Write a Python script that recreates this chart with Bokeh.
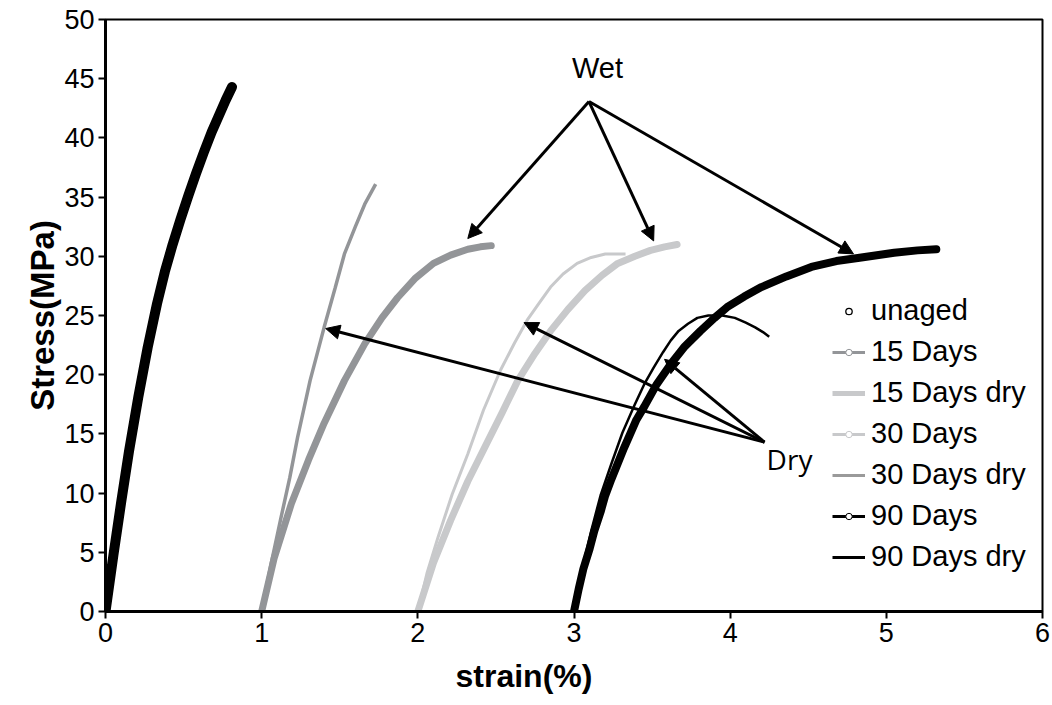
from bokeh.plotting import figure
from bokeh.models import Range1d, FixedTicker, Legend, LegendItem, Arrow, NormalHead, Label, Title
from bokeh.embed import file_html
from bokeh.resources import INLINE

# ---- data ----
unaged_x = [0.0, 0.05, 0.10, 0.15, 0.21, 0.27, 0.33, 0.38, 0.43, 0.48, 0.53, 0.58, 0.63, 0.68, 0.73, 0.77, 0.81]
unaged_y = [0.0, 4.7, 9.2, 13.5, 18.1, 22.3, 26.0, 28.7, 31.0, 33.1, 35.1, 37.0, 38.8, 40.5, 42.0, 43.2, 44.3]

d15_x = [1.0, 1.08, 1.19, 1.30, 1.40, 1.53, 1.66, 1.77, 1.87, 1.98, 2.10, 2.21, 2.32, 2.40, 2.47]
d15_y = [0.0, 4.5, 9.1, 12.8, 15.9, 19.5, 22.6, 24.8, 26.5, 28.1, 29.4, 30.1, 30.6, 30.8, 30.9]

d15dry_x = [1.0, 1.06, 1.12, 1.18, 1.23, 1.31, 1.40, 1.47, 1.53, 1.60, 1.66, 1.73]
d15dry_y = [0.0, 4.0, 7.7, 11.3, 14.7, 19.5, 24.0, 27.3, 30.2, 32.5, 34.4, 36.1]

d30_x = [2.0, 2.10, 2.21, 2.32, 2.43, 2.54, 2.64, 2.75, 2.85, 2.96, 3.07, 3.18, 3.28, 3.39, 3.49, 3.58, 3.66]
d30_y = [0.0, 4.1, 7.7, 11.0, 13.9, 16.8, 19.5, 21.8, 23.7, 25.5, 27.1, 28.4, 29.4, 30.0, 30.5, 30.8, 31.0]

d30dry_x = [2.0, 2.06, 2.13, 2.22, 2.32, 2.42, 2.53, 2.62, 2.70, 2.78, 2.85, 2.93, 3.02, 3.11, 3.20, 3.27, 3.33]
d30dry_y = [0.0, 3.3, 6.3, 9.9, 13.3, 17.0, 20.4, 22.7, 24.6, 26.1, 27.4, 28.5, 29.4, 29.9, 30.2, 30.2, 30.2]

d90_x = [3.0, 3.03, 3.06, 3.10, 3.13, 3.17, 3.20, 3.24, 3.28, 3.32, 3.36, 3.40, 3.45, 3.53, 3.62, 3.71, 3.81, 3.90, 3.98, 4.09, 4.20, 4.36, 4.52, 4.68, 4.84, 5.05, 5.20, 5.32]
d90_y = [0.0, 1.9, 3.6, 5.3, 6.8, 8.4, 9.8, 11.2, 12.5, 13.8, 15.0, 16.2, 17.3, 19.2, 20.9, 22.4, 23.7, 24.8, 25.7, 26.6, 27.4, 28.3, 29.1, 29.6, 29.9, 30.3, 30.5, 30.6]

d90dry_x = [3.0, 3.05, 3.11, 3.17, 3.24, 3.31, 3.39, 3.45, 3.51, 3.57, 3.62, 3.67, 3.73, 3.79, 3.86, 3.95, 4.03, 4.10, 4.16, 4.21, 4.25]
d90dry_y = [0.0, 3.5, 6.8, 9.8, 12.5, 15.1, 17.5, 19.2, 20.6, 21.9, 22.9, 23.7, 24.3, 24.8, 25.0, 25.0, 24.8, 24.4, 24.0, 23.6, 23.2]

legend_labels = ["unaged", "15 Days", "15 Days dry", "30 Days", "30 Days dry", "90 Days", "90 Days dry"]

x_ticks = [0, 1, 2, 3, 4, 5, 6]
y_ticks = [0, 5, 10, 15, 20, 25, 30, 35, 40, 45, 50]

# annotation arrows
wet_origin = (3.096, 43.07)
wet_tips_x = [2.32, 3.51, 4.79]
wet_tips_y = [31.5, 31.3, 30.2]
dry_origin = (4.22, 14.3)
dry_tips_x = [1.41, 2.68, 3.58]
dry_tips_y = [23.9, 24.4, 21.3]

GRAY = "#939598"
LIGHT = "#c8c9cb"
FONT = "Liberation Sans"

p = figure(width=1052, height=705, output_backend="svg", toolbar_location=None,
           x_range=Range1d(0, 6), y_range=Range1d(0, 50),
           min_border_left=105, min_border_right=10, min_border_top=19, min_border_bottom=94)
p.extra_y_ranges = {"legend_only": Range1d(-1000, -999)}
p.background_fill_color = "white"
p.border_fill_color = "white"
p.outline_line_color = "black"
p.outline_line_width = 2
p.grid.visible = False

for ax in (p.xaxis[0], p.yaxis[0]):
    ax.axis_line_width = 3
    ax.axis_line_color = "black"
    ax.major_tick_line_width = 2
    ax.major_tick_line_color = "black"
    ax.major_tick_out = 7
    ax.major_tick_in = 0
    ax.minor_tick_line_color = None
    ax.major_label_text_font = FONT
    ax.major_label_text_font_size = "27px"
    ax.major_label_text_color = "black"
    ax.major_label_standoff = 4

p.xaxis.ticker = FixedTicker(ticks=x_ticks)
p.yaxis.ticker = FixedTicker(ticks=y_ticks)
p.yaxis.axis_label = "Stress(MPa)"
p.yaxis.axis_label_text_font = FONT
p.yaxis.axis_label_text_font_size = "33px"
p.yaxis.axis_label_text_font_style = "bold"
p.yaxis.axis_label_text_color = "black"
p.yaxis.axis_label_standoff = 0

p.add_layout(Title(text="strain(%)", align="left", offset=350, text_font=FONT,
                   text_font_size="32px", text_font_style="bold", text_color="black",
                   standoff=22), "below")

# curves
p.line(d30dry_x, d30dry_y, line_color=LIGHT, line_width=3)
p.line(d30_x, d30_y, line_color=LIGHT, line_width=7, line_cap="round", line_join="round")
p.line(d15dry_x, d15dry_y, line_color=GRAY, line_width=3.5)
p.line(d15_x, d15_y, line_color=GRAY, line_width=7, line_cap="round", line_join="round")
p.line(d90dry_x, d90dry_y, line_color="black", line_width=2.5, line_join="round")
p.line(d90_x, d90_y, line_color="black", line_width=8, line_cap="round", line_join="round")
p.line(unaged_x, unaged_y, line_color="black", line_width=10, line_cap="round", line_join="round")

# arrows
for tx, ty in zip(wet_tips_x, wet_tips_y):
    p.add_layout(Arrow(end=NormalHead(size=14, fill_color="black", line_color="black"),
                       x_start=wet_origin[0], y_start=wet_origin[1], x_end=tx, y_end=ty,
                       line_width=3, line_color="black"))
for tx, ty in zip(dry_tips_x, dry_tips_y):
    p.add_layout(Arrow(end=NormalHead(size=14, fill_color="black", line_color="black"),
                       x_start=dry_origin[0], y_start=dry_origin[1], x_end=tx, y_end=ty,
                       line_width=3, line_color="black"))

p.add_layout(Label(x=3.15, y=45.9, text="Wet", text_font=FONT, text_font_size="29px",
                   text_align="center", text_baseline="middle", text_color="black"))
p.add_layout(Label(x=4.38, y=12.9, text="Dry", text_font="Open Sans", text_font_size="28px",
                   text_align="center", text_baseline="middle", text_color="black"))

# legend glyphs: same series drawn on an off-screen range, styled as in the reference legend
kw = dict(y_range_name="legend_only")
r0 = p.scatter(unaged_x, unaged_y, marker="circle", size=8, fill_color="white", line_color="black", line_width=1.3, **kw)
r1a = p.line(d15_x, d15_y, line_color=GRAY, line_width=3, **kw)
r1b = p.scatter(d15_x, d15_y, marker="circle", size=4, fill_color="white", line_color=GRAY, line_width=1, **kw)
r2 = p.line(d15dry_x, d15dry_y, line_color=LIGHT, line_width=5, **kw)
r3a = p.line(d30_x, d30_y, line_color=LIGHT, line_width=3, **kw)
r3b = p.scatter(d30_x, d30_y, marker="circle", size=4, fill_color="white", line_color=LIGHT, line_width=1, **kw)
r4 = p.line(d30dry_x, d30dry_y, line_color="#9a9a9a", line_width=3, **kw)
r5a = p.line(d90_x, d90_y, line_color="black", line_width=3, **kw)
r5b = p.scatter(d90_x, d90_y, marker="circle", size=4, fill_color="white", line_color="black", line_width=1, **kw)
r6 = p.line(d90dry_x, d90dry_y, line_color="black", line_width=3, **kw)

items = [LegendItem(label=legend_labels[0], renderers=[r0]),
         LegendItem(label=legend_labels[1], renderers=[r1a, r1b]),
         LegendItem(label=legend_labels[2], renderers=[r2]),
         LegendItem(label=legend_labels[3], renderers=[r3a, r3b]),
         LegendItem(label=legend_labels[4], renderers=[r4]),
         LegendItem(label=legend_labels[5], renderers=[r5a, r5b]),
         LegendItem(label=legend_labels[6], renderers=[r6])]
legend = Legend(items=items, location=(727, 34), border_line_color=None,
                background_fill_alpha=0, padding=0, margin=0, spacing=0,
                glyph_width=33, glyph_height=16, label_height=41,
                label_text_font=FONT, label_text_font_size="29px", label_text_color="black",
                label_standoff=6)
p.add_layout(legend)

open("out.html", "w").write(file_html(p, INLINE))
